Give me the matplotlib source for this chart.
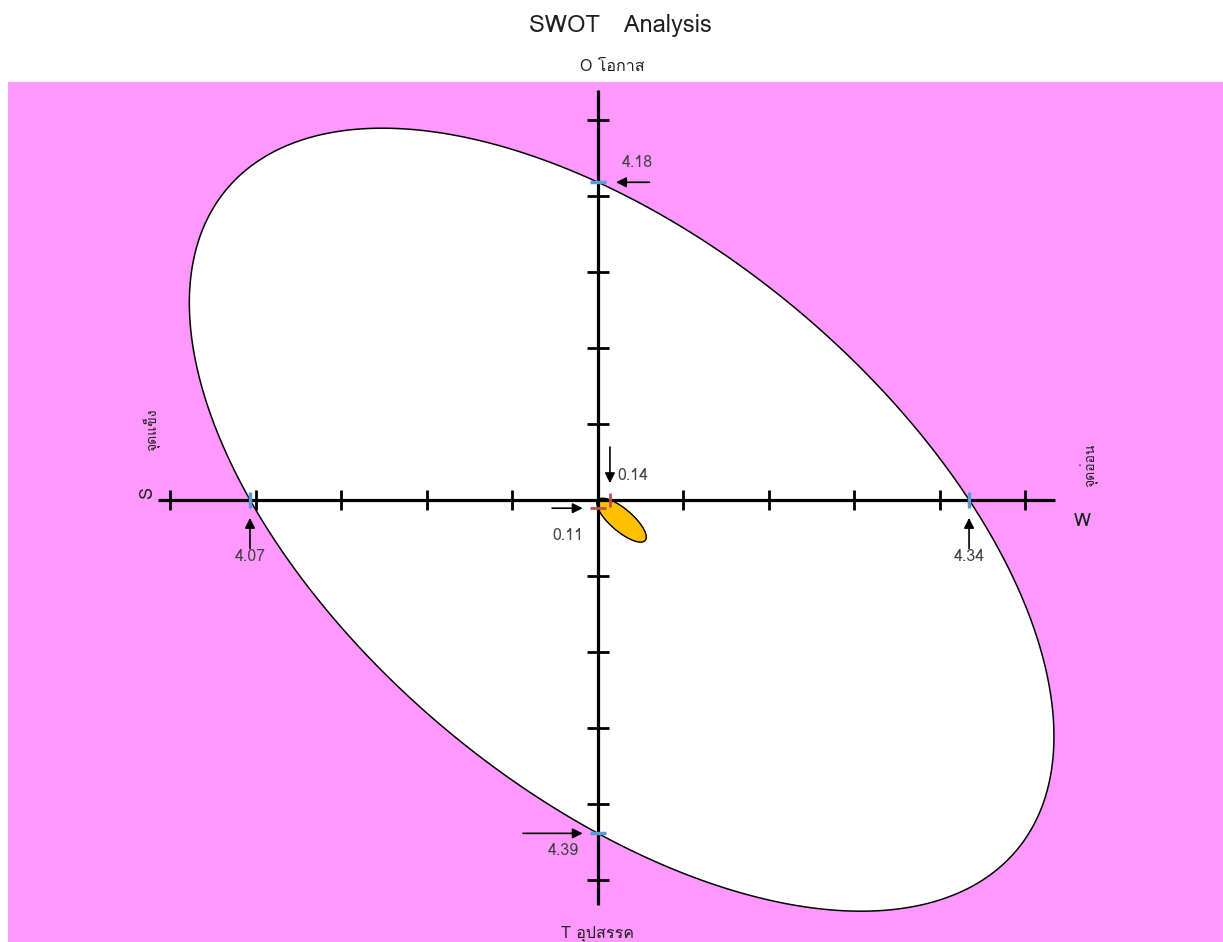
import numpy as np
import matplotlib
matplotlib.use('Agg')
import matplotlib.pyplot as plt
from matplotlib import font_manager
from matplotlib.ft2font import FT2Font

# หา font ที่มีอักษรไทย (ถ้ามี)
thai_font = None
for f in font_manager.fontManager.ttflist:
    try:
        if 0x0E2D in FT2Font(f.fname).get_charmap():
            thai_font = f.name
            break
    except Exception:
        pass
families = [thai_font, 'DejaVu Sans'] if thai_font else ['DejaVu Sans']
plt.rcParams['font.family'] = families

# ข้อมูล SWOT
S, W, O, T = 4.07, 4.34, 4.18, 4.39
net_x, net_y = 0.14, 0.11
tick_vals = [-5, -4, -3, -2, -1, 1, 2, 3, 4, 5]
title = 'SWOT   Analysis'
label_o = 'O โอกาส'
label_t = 'T อุปสรรค'
label_s = 'S'
label_w = 'W'
label_strength = 'จุดแข็ง'
label_weak = 'จุดอ่อน'

pink = '#FF99FF'
blue = '#5B9BD5'
red = '#C0504D'
txt = '#404040'

fig = plt.figure(figsize=(12.23, 9.42), dpi=100)
ax = fig.add_axes([8 / 1223, 0, 1215 / 1223, 860 / 942])
ax.set_facecolor(pink)
ax.set_xlim(-6.9, 7.31)
ax.set_ylim(-5.82, 5.5)
for sp in ax.spines.values():
    sp.set_visible(False)
ax.set_xticks([])
ax.set_yticks([])

# วงรีใหญ่ ผ่านจุด S, W, O, T
xx, yy = np.meshgrid(np.linspace(-6.9, 7.31, 900), np.linspace(-5.82, 5.5, 900))
A = 1 / (S * W)
D = (S - W) / (S * W)
C = 1 / (O * T)
E = (T - O) / (O * T)
Bxy = 0.0615
Z = A * xx**2 + Bxy * xx * yy + C * yy**2 + D * xx + E * yy - 1
ax.contourf(xx, yy, Z, levels=[Z.min() - 1, 0], colors='white', zorder=1)
ax.contour(xx, yy, Z, levels=[0], colors='black', linewidths=1.1, zorder=2)

# แกน
ax.plot([-5.14, 5.35], [0, 0], color='black', lw=2.3, zorder=3, solid_capstyle='butt')
ax.plot([0, 0], [-5.33, 5.4], color='black', lw=2.3, zorder=3, solid_capstyle='butt')
ax.plot(tick_vals, [0] * len(tick_vals), ls='none', marker='|', ms=15, mew=2, color='black', zorder=3)
ax.plot([0] * len(tick_vals), tick_vals, ls='none', marker='_', ms=16, mew=2, color='black', zorder=3)

# วงรีเล็ก
C2 = 1.0
B2 = 1.54
Zs = xx**2 + B2 * xx * yy + C2 * yy**2 - net_x * xx + C2 * net_y * yy
ax.contourf(xx, yy, Zs, levels=[Zs.min() - 1, 0], colors='#FFC000', zorder=2.5)
ax.contour(xx, yy, Zs, levels=[0], colors='black', linewidths=1.0, zorder=2.6)

# เครื่องหมายจุดตัด
ax.plot([-S, W], [0, 0], ls='none', marker='|', ms=12, mew=2.5, color=blue, zorder=4)
ax.plot([0, 0], [O, -T], ls='none', marker='_', ms=12, mew=2.5, color=blue, zorder=4)
ax.plot([net_x], [0], ls='none', marker='|', ms=10, mew=2, color=red, zorder=4)
ax.plot([0], [-net_y], ls='none', marker='_', ms=11, mew=2, color=red, zorder=4)


def arrow(pt, tail, gap, label, label_off, ha='center'):
    ax.annotate('', xy=pt, xytext=tail, textcoords='offset points',
                arrowprops=dict(arrowstyle='-|>', color='black', lw=1.2,
                                shrinkA=0, shrinkB=gap, mutation_scale=15), zorder=5)
    ax.annotate(label, xy=pt, xytext=label_off, textcoords='offset points',
                ha=ha, va='center', fontsize=11.5, color=txt, zorder=5)


arrow((0, O), (37, 0), 13, f'{O:.2f}', (28, 14))
arrow((-S, 0), (0, -35), 13, f'{S:.2f}', (0, -41))
arrow((W, 0), (0, -35), 13, f'{W:.2f}', (0, -41))
arrow((0, -T), (-54, 0), 11, f'{T:.2f}', (-25, -13))
arrow((net_x, 0), (0, 38), 12, f'{net_x:.2f}', (5, 17), ha='left')
arrow((0, -net_y), (-33, 0), 11, f'{net_y:.2f}', (-22, -20))

# ข้อความ
fig.text(0.507, 0.973, title, ha='center', va='center', fontsize=17, color='#202020')
fig.text(0.501, 0.929, label_o, ha='center', va='center', fontsize=11.5, color='#202020')
ax.text(0, -5.72, label_t, ha='center', va='center', fontsize=11.5, color='#202020')
ax.text(-5.27, 0.09, label_s, ha='center', va='center', fontsize=13, rotation=90, color='#202020')
ax.text(-5.22, 0.92, label_strength, ha='center', va='center', fontsize=10, rotation=90, color='#202020')
ax.text(5.75, 0.46, label_weak, ha='center', va='center', fontsize=10, rotation=90, color='#202020')
ax.text(5.66, -0.28, label_w, ha='center', va='center', fontsize=13, color='#202020')

fig.savefig('out.png', dpi=100)
